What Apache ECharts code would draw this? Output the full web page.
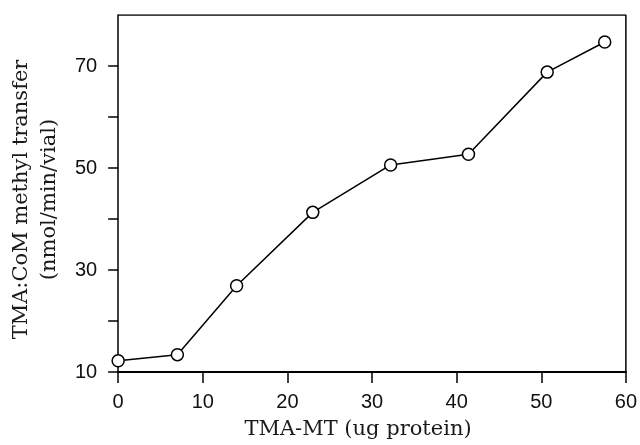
<!DOCTYPE html>
<html>
<head>
<meta charset="utf-8">
<script src="https://cdn.jsdelivr.net/npm/echarts@6/dist/echarts.min.js"></script>
<style>
  html, body { margin: 0; padding: 0; background: #fff; }
  #chart { width: 640px; height: 445px; }
</style>
</head>
<body>
<div id="chart"></div>
<script>
// protein amount (ug) vs methyl transfer rate
const proteinUg = [0, 7, 14, 23, 32.2, 41.4, 50.7, 57.5]
const transferRate = [12.2, 13.4, 26.9, 41.3, 50.6, 52.7, 68.8, 74.7]
const yLabelTicks = [10, 30, 50, 70]

const chart = echarts.init(document.getElementById('chart'))

const serif = '"DejaVu Serif", "Liberation Serif", serif'
const sans = '"Liberation Sans", Arial, sans-serif'

const option = {
  backgroundColor: '#fff',
  animation: false,
  grid: { left: 117, right: 13, top: 15, bottom: 72 },
  xAxis: {
    type: 'value',
    min: 0,
    max: 60,
    interval: 10,
    name: 'TMA-MT (ug protein)',
    nameLocation: 'middle',
    nameGap: 47,
    // text sits a bit left of the plot centre in the original
    nameTextStyle: { fontFamily: serif, fontSize: 21, color: '#1a1a1a', padding: [0, 28, 0, 0] },
    axisLine: { show: true, lineStyle: { color: '#000', width: 2 } },
    axisTick: { show: true, inside: false, length: 11, lineStyle: { color: '#000', width: 1.5 } },
    axisLabel: { fontFamily: sans, fontSize: 20, color: '#111', margin: 20 },
    splitLine: { show: false },
  },
  yAxis: {
    type: 'value',
    min: 10,
    max: 80,
    interval: 10,
    name: 'TMA:CoM methyl transfer\n(nmol/min/vial)',
    nameLocation: 'middle',
    nameGap: 53,
    nameRotate: 90,
    nameTextStyle: { fontFamily: serif, fontSize: 21, color: '#1a1a1a', lineHeight: 28, padding: [0, 12, 0, 0] },
    axisLine: { show: true, lineStyle: { color: '#000', width: 1.5 } },
    axisTick: { show: true, inside: false, length: 10, lineStyle: { color: '#000', width: 1.5 } },
    axisLabel: {
      fontFamily: sans,
      fontSize: 20,
      color: '#111',
      margin: 21,
      showMaxLabel: false,
      formatter: v => (yLabelTicks.includes(v) ? String(v) : ''),
    },
    splitLine: { show: false },
  },
  series: [
    {
      type: 'line',
      data: proteinUg.map((x, i) => [x, transferRate[i]]),
      symbol: 'circle',
      symbolSize: 12,
      showAllSymbol: true,
      lineStyle: { color: '#000', width: 1.5 },
      itemStyle: { color: '#fff', borderColor: '#000', borderWidth: 1.5 },
      z: 3,
    },
    {
      // frame on top and right
      type: 'line',
      data: [[0, 80], [60, 80], [60, 10]],
      symbol: 'none',
      lineStyle: { color: '#000', width: 1.5 },
      silent: true,
      z: 2,
    },
  ],
}

chart.setOption(option)
</script>
</body>
</html>
